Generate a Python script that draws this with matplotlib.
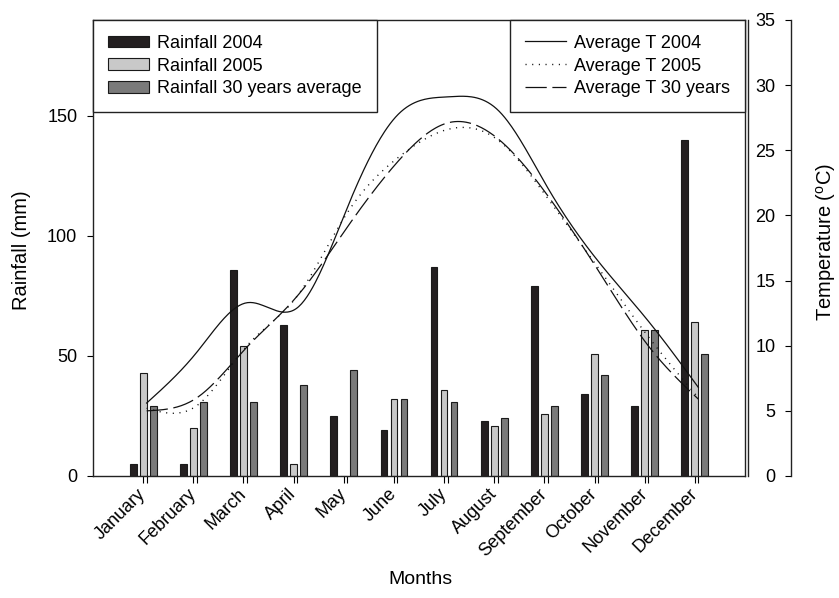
import numpy as np
import matplotlib
matplotlib.use("Agg")
import matplotlib.pyplot as plt

plt.rcParams['font.family'] = ['Liberation Sans', 'DejaVu Sans']
plt.rcParams['mathtext.fontset'] = 'custom'
plt.rcParams['mathtext.rm'] = 'Liberation Sans'
plt.rcParams['mathtext.it'] = 'Liberation Sans'

months = ["January", "February", "March", "April", "May", "June", "July",
          "August", "September", "October", "November", "December"]
rain_2004 = [5, 5, 86, 63, 25, 19, 87, 23, 79, 34, 29, 140]
rain_2005 = [43, 20, 54, 5, 0, 32, 36, 21, 26, 51, 61, 64]
rain_30yr = [29, 31, 31, 38, 44, 32, 31, 24, 29, 42, 61, 51]
temp_2004 = [5.6, 9.5, 13.3, 12.9, 20.6, 27.7, 29.1, 28.1, 22.1, 16.5, 11.9, 6.8]
temp_2005 = [5.2, 5.4, 10.0, 13.8, 20.2, 24.4, 26.6, 25.8, 21.3, 16.0, 10.7, 6.0]
temp_30yr = [5.0, 6.0, 9.9, 13.8, 19.1, 24.1, 27.1, 25.9, 21.5, 15.8, 10.0, 5.9]


def natural_spline(x, y, xs):
    x = np.asarray(x, float)
    y = np.asarray(y, float)
    n = len(x)
    h = np.diff(x)
    A = np.zeros((n, n))
    b = np.zeros(n)
    A[0, 0] = 1
    A[-1, -1] = 1
    for i in range(1, n - 1):
        A[i, i - 1] = h[i - 1]
        A[i, i] = 2 * (h[i - 1] + h[i])
        A[i, i + 1] = h[i]
        b[i] = 3 * ((y[i + 1] - y[i]) / h[i] - (y[i] - y[i - 1]) / h[i - 1])
    c = np.linalg.solve(A, b)
    bb = (y[1:] - y[:-1]) / h - h * (2 * c[:-1] + c[1:]) / 3
    d = (c[1:] - c[:-1]) / (3 * h)
    idx = np.clip(np.searchsorted(x, xs) - 1, 0, n - 2)
    dx = xs - x[idx]
    return y[idx] + bb[idx] * dx + c[idx] * dx ** 2 + d[idx] * dx ** 3


W, H = 839, 598
fig = plt.figure(figsize=(W / 100, H / 100), dpi=100)
ax = fig.add_axes([93 / W, 1 - 476 / H, 652 / W, 456 / H])

x = np.arange(len(months))
bw = 0.135
off = 0.2
ec = '#1a1a1a'
b1 = ax.bar(x - off, rain_2004, bw, color='#231f20', edgecolor=ec, linewidth=0.8,
            label='Rainfall 2004', zorder=2)
b2 = ax.bar(x, rain_2005, bw, color='#c9c9c9', edgecolor=ec, linewidth=0.8,
            label='Rainfall 2005', zorder=2)
b3 = ax.bar(x + off, rain_30yr, bw, color='#7a7a7a', edgecolor=ec, linewidth=0.8,
            label='Rainfall 30 years average', zorder=2)

ax.set_xlim(-1, 12)
ax.set_ylim(0, 190)
ax.set_yticks([0, 50, 100, 150])
ax.set_xticks(x)
ax.set_xticklabels(months, rotation=45, ha='right', va='center', rotation_mode='anchor')
ax.set_xticks(x + 0.07, minor=True)
ax.tick_params(axis='x', which='both', length=5, width=0.8, pad=6, labelsize=13)
ax.tick_params(axis='y', length=4.3, width=0.8, pad=7, labelsize=13)
ax.yaxis.set_ticks_position('left')
for s in ax.spines.values():
    s.set_linewidth(1.0)
    s.set_color('#222222')

leg_kw = dict(borderaxespad=0, fontsize=13, handlelength=2.3, handletextpad=0.45,
              labelspacing=0.32, borderpad=0.82, fancybox=False, framealpha=1,
              edgecolor='#222222')
leg1 = ax.legend(handles=[b1, b2, b3], loc='upper left', bbox_to_anchor=(0, 1),
                 handleheight=0.6, **leg_kw)
leg1.get_frame().set_linewidth(1.0)

ax2 = ax.twinx()
ax2.set_ylim(0, 35)
ax2.set_yticks(range(0, 36, 5))
ax2.spines['top'].set_visible(False)
ax2.spines['bottom'].set_visible(False)
ax2.spines['right'].set_position(('outward', 2.2))
ax2.spines['right'].set_linewidth(1.0)
ax2.spines['right'].set_color('#222222')
ax2.spines['left'].set_visible(True)
ax2.spines['left'].set_position(('axes', (791 - 93) / 652))
ax2.spines['left'].set_linewidth(1.0)
ax2.spines['left'].set_color('#222222')
ax2.yaxis.set_ticks_position('left')
ax2.tick_params(axis='y', direction='out', length=4.3, width=0.8, pad=7, labelsize=13)

xs = np.linspace(0, 11, 400)
lx = xs + 0.07
l1, = ax2.plot(lx, natural_spline(x, temp_2004, xs), color='#111111', lw=0.9,
               label='Average T 2004')
l2, = ax2.plot(lx, natural_spline(x, temp_2005, xs), color='#111111', lw=1.0,
               linestyle=(0, (0.8, 4.0)), label='Average T 2005')
l3, = ax2.plot(lx, natural_spline(x, temp_30yr, xs), color='#111111', lw=0.9,
               linestyle=(0, (17, 4.5)), label='Average T 30 years')

leg2 = ax2.legend(handles=[l1, l2, l3], loc='upper right', bbox_to_anchor=(1, 1),
                  **leg_kw)
leg2.get_frame().set_linewidth(1.0)

fig.text(22 / W, 1 - 250 / H, 'Rainfall (mm)', rotation=90, ha='center', va='center',
         fontsize=14.5)
fig.text(826 / W, 1 - 242 / H, r'Temperature ($^\mathrm{o}$C)', rotation=90,
         ha='center', va='center', fontsize=14.5)
fig.text(420 / W, 1 - 580 / H, 'Months', ha='center', va='center', fontsize=14)

fig.savefig('out.png', dpi=100, facecolor='white')
